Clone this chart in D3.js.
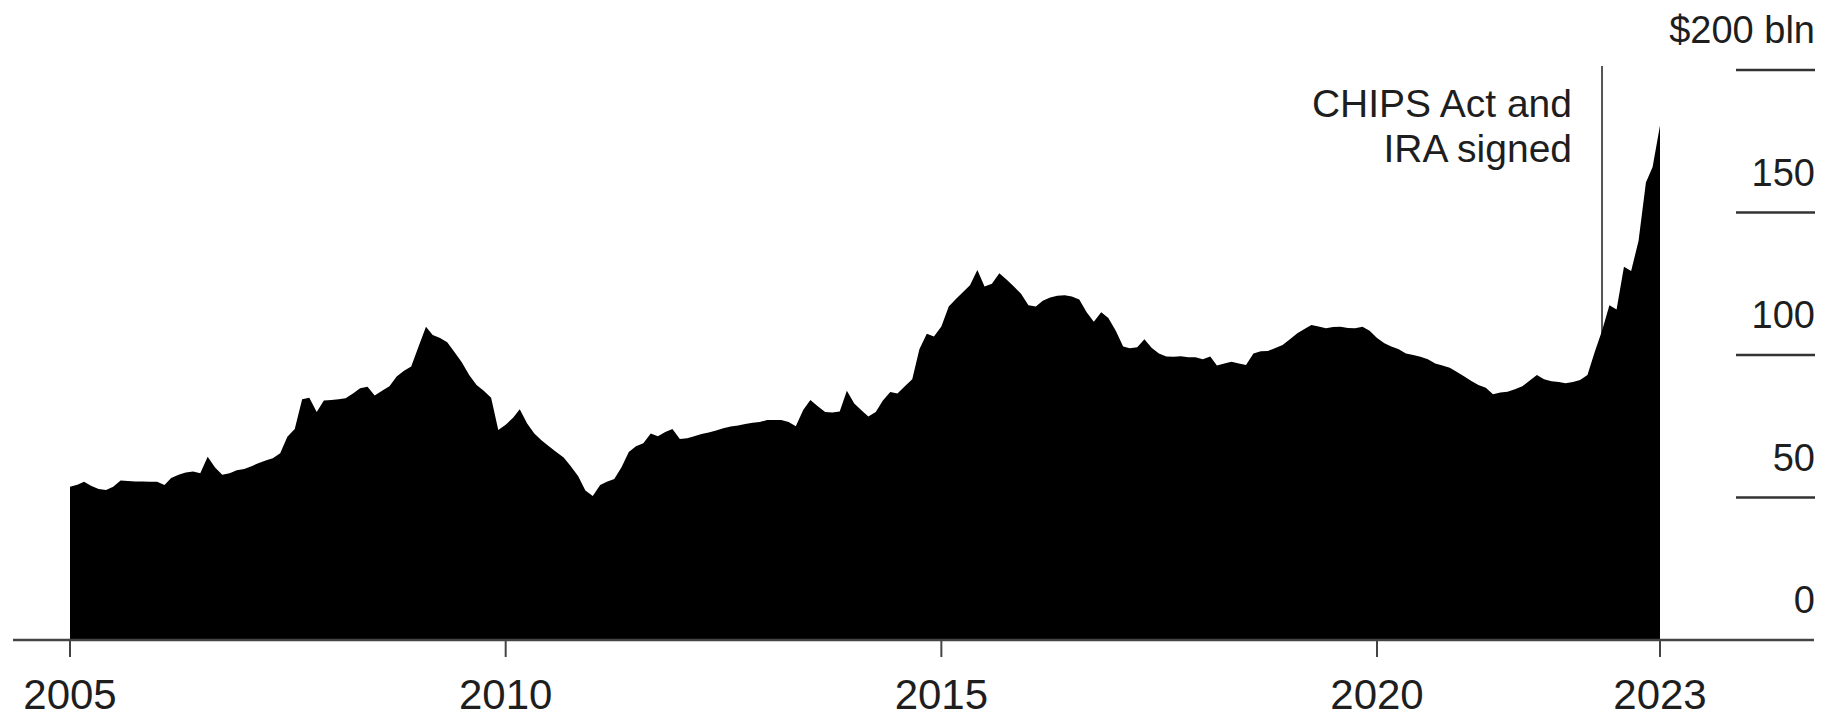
<!DOCTYPE html>
<html>
<head>
<meta charset="utf-8">
<script src="https://cdn.jsdelivr.net/npm/d3@7"></script>
<style>
  html, body { margin: 0; padding: 0; background: #fff; }
  svg { display: block; }
  text { font-family: "Liberation Sans", Arial, Helvetica, sans-serif; fill: #1e1e1e; }
</style>
</head>
<body>
<svg id="chart" width="1827" height="719"></svg>
<script>
// ---- Data (monthly, $ bln) ----
const firstYear = 2005;
const v2005 = [53.8, 54.5, 55.5, 54, 53, 52.6, 53.8, 56, 55.8, 55.6, 55.6, 55.5];
const v2006 = [55.5, 54.4, 56.8, 58, 58.8, 59.1, 58.5, 64.3, 60.5, 58, 58.5, 59.6];
const v2007 = [60, 61, 62, 63, 63.8, 65.5, 71.3, 74, 84.5, 85, 80, 84];
const v2008 = [84.2, 84.5, 84.8, 86.5, 88.3, 88.9, 85.8, 87.5, 89, 92.5, 94.5, 96];
const v2009 = [103, 109.9, 107, 106, 104.5, 101, 97.5, 93, 89.5, 87.5, 85, 73.7];
const v2010 = [75.5, 78, 81, 76, 72.5, 70, 68, 66, 64, 61, 57.5, 52.5];
const v2011 = [50.5, 54.4, 55.5, 56.5, 60.5, 66, 68, 69, 72.5, 71.5, 73, 74];
const v2012 = [70.5, 70.8, 71.5, 72.3, 72.8, 73.5, 74.3, 74.9, 75.3, 75.8, 76.2, 76.5];
const v2013 = [77.2, 77.2, 77.2, 76.5, 75, 80.7, 84.2, 82, 80, 79.8, 80.2, 87.5];
const v2014 = [83, 80.5, 78.4, 80, 84, 87, 86.5, 89, 91.5, 102, 107.5, 106.5];
const v2015 = [110, 117, 119.5, 122, 124.5, 129.8, 124, 125, 128.7, 126.5, 124, 121.5];
const v2016 = [117.5, 117, 119, 120.2, 120.8, 121, 120.5, 119.5, 115, 111.7, 115, 113];
const v2017 = [108.5, 103, 102.4, 102.7, 105.5, 102.5, 100.5, 99.5, 99.4, 99.6, 99.2, 99.2];
const v2018 = [98.5, 99.5, 96.3, 97, 97.6, 97, 96.5, 100.5, 101.3, 101.4, 102.5, 103.5];
const v2019 = [105.5, 107.6, 109, 110.5, 110, 109.4, 109.8, 109.9, 109.5, 109.4, 109.9, 108.5];
const v2020 = [106, 104.1, 103, 102, 100.5, 100, 99.4, 98.5, 97, 96.3, 95.5, 94];
const v2021 = [92.5, 90.8, 89.5, 88.5, 86.2, 86.8, 87.1, 88, 89, 91, 93, 91.5];
const v2022 = [90.8, 90.5, 90.1, 90.5, 91.2, 93, 101, 108.5, 117.5, 116, 131, 129.5];
const v2023 = [140, 160.5, 166, 180.5];
const yearValues = [v2005, v2006, v2007, v2008, v2009, v2010, v2011, v2012, v2013,
                    v2014, v2015, v2016, v2017, v2018, v2019, v2020, v2021, v2022, v2023];

const xTickYears = [2005, 2010, 2015, 2020];
const xEndLabel = "2023";
const yTickValues = [0, 50, 100, 150, 200];
const yTickLabels = ["0", "50", "100", "150", "$200 bln"];
const annotationDate = [2022, 7];   // Aug 2022
const annotationLines = ["CHIPS Act and", "IRA signed"];

// ---- Build series ----
const data = [];
yearValues.forEach((arr, yi) => {
  arr.forEach((v, mi) => data.push({ date: new Date(firstYear + yi, mi, 1), value: v }));
});

// ---- Scales ----
const svg = d3.select("#chart");
const x = d3.scaleTime()
  .domain([data[0].date, data[data.length - 1].date])
  .range([70, 1660]);
const y = d3.scaleLinear().domain([0, 200]).range([640, 70]);

// ---- Annotation line (behind the area) ----
const ax = x(new Date(annotationDate[0], annotationDate[1], 1));
svg.append("line")
  .attr("x1", ax).attr("x2", ax)
  .attr("y1", 66).attr("y2", y(0))
  .attr("stroke", "#555").attr("stroke-width", 2);

// ---- Area ----
const area = d3.area()
  .x(d => x(d.date))
  .y0(y(0))
  .y1(d => y(d.value));
svg.append("path")
  .datum(data)
  .attr("d", area)
  .attr("fill", "#000");

// ---- Baseline ----
svg.append("line")
  .attr("x1", 13).attr("x2", 1814)
  .attr("y1", y(0)).attr("y2", y(0))
  .attr("stroke", "#444").attr("stroke-width", 2.5);

// ---- X axis ticks ----
const xTicks = xTickYears.map(yr => ({ date: new Date(yr, 0, 1), label: String(yr) }));
xTicks.push({ date: data[data.length - 1].date, label: xEndLabel });
const xg = svg.append("g");
xg.selectAll("line.tick").data(xTicks).join("line")
  .attr("class", "tick")
  .attr("x1", d => x(d.date)).attr("x2", d => x(d.date))
  .attr("y1", y(0)).attr("y2", y(0) + 17)
  .attr("stroke", "#444").attr("stroke-width", 2);
xg.selectAll("text").data(xTicks).join("text")
  .attr("x", d => x(d.date))
  .attr("y", 709)
  .attr("text-anchor", "middle")
  .attr("font-size", 42)
  .text(d => d.label);

// ---- Y axis (right) ----
const yg = svg.append("g");
yTickValues.forEach((v, i) => {
  if (v !== 0) {
    yg.append("line")
      .attr("x1", 1736).attr("x2", 1815)
      .attr("y1", y(v)).attr("y2", y(v))
      .attr("stroke", "#333").attr("stroke-width", 2.5);
  }
  yg.append("text")
    .attr("x", 1815)
    .attr("y", y(v) - 27)
    .attr("text-anchor", "end")
    .attr("font-size", 38)
    .text(yTickLabels[i]);
});

// ---- Annotation text ----
const at = svg.append("text")
  .attr("text-anchor", "end")
  .attr("font-size", 39);
annotationLines.forEach((t, i) => {
  at.append("tspan").attr("x", ax - 30).attr("y", 117 + i * 45).text(t);
});
</script>
</body>
</html>
